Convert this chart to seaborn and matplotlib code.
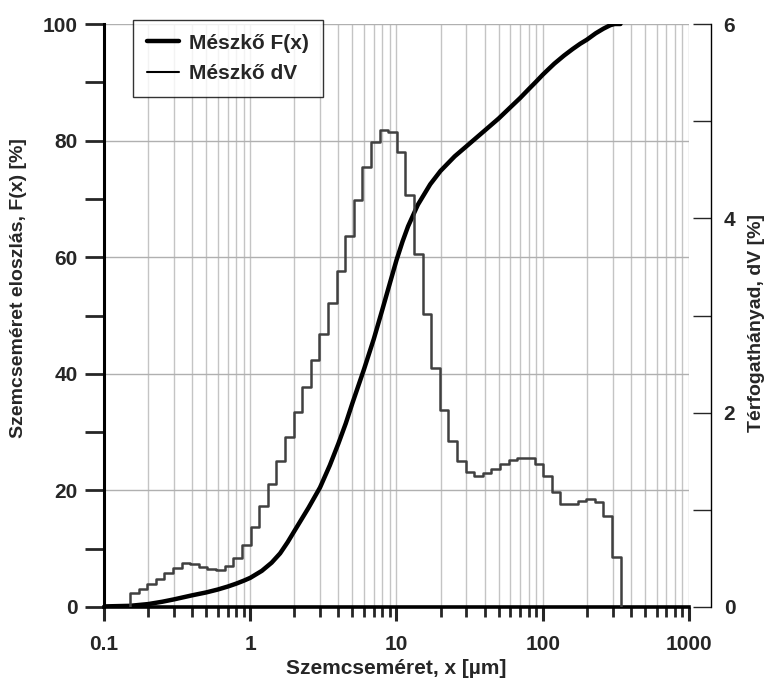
import numpy as np
import pandas as pd
import matplotlib
matplotlib.use("Agg")
import matplotlib.pyplot as plt
import matplotlib.ticker as mticker
from matplotlib.lines import Line2D
import seaborn as sns

# ---- data ----
bin_edges = [0.1506, 0.1724, 0.1974, 0.2261, 0.2589, 0.2965, 0.3396, 0.3888, 0.4453,
             0.5099, 0.5839, 0.6686, 0.7656, 0.8766, 1.004, 1.150, 1.316, 1.507, 1.726,
             1.976, 2.263, 2.592, 2.968, 3.399, 3.892, 4.457, 5.104, 5.845, 6.693, 7.664,
             8.777, 10.05, 11.51, 13.18, 15.09, 17.28, 19.79, 22.66, 25.95, 29.72, 34.03,
             38.96, 44.62, 51.09, 58.51, 66.99, 76.72, 87.85, 100.6, 115.2, 131.9, 151.1,
             173.0, 198.1, 226.9, 259.8, 297.5, 340.6]
dv_values = [0.144, 0.186, 0.234, 0.288, 0.348, 0.402, 0.450, 0.438, 0.408, 0.390,
             0.384, 0.420, 0.504, 0.636, 0.828, 1.038, 1.266, 1.500, 1.752, 2.004,
             2.268, 2.538, 2.814, 3.132, 3.462, 3.816, 4.188, 4.524, 4.782, 4.914,
             4.884, 4.686, 4.236, 3.630, 3.018, 2.460, 2.028, 1.710, 1.500, 1.386,
             1.350, 1.374, 1.416, 1.470, 1.512, 1.536, 1.530, 1.470, 1.350, 1.188,
             1.062, 1.062, 1.092, 1.110, 1.080, 0.936, 0.516]
fx_size = [0.1, 0.15, 0.2, 0.25, 0.3, 0.4, 0.5, 0.6, 0.7, 0.8, 0.9, 1.0, 1.2, 1.4,
           1.6, 1.8, 2.0, 2.5, 3.0, 3.5, 4.0, 4.5, 5.0, 6.0, 7.0, 8.0, 9.0, 10.0,
           11.0, 12.0, 14.0, 17.0, 20.0, 25.0, 30.0, 40.0, 50.0, 60.0, 70.0, 80.0,
           90.0, 100.0, 110.0, 120.0, 140.0, 160.0, 180.0, 200.0, 230.0, 260.0,
           290.0, 310.0, 340.0]
fx_values = [0.1, 0.2, 0.5, 0.9, 1.3, 2.0, 2.5, 3.0, 3.5, 4.0, 4.5, 5.0, 6.2, 7.6,
             9.2, 11.1, 13.0, 17.0, 20.5, 24.3, 28.0, 31.5, 35.0, 40.8, 46.0, 51.0,
             55.5, 59.5, 62.7, 65.3, 69.0, 72.5, 74.8, 77.3, 79.0, 81.7, 83.8, 85.7,
             87.3, 88.8, 90.1, 91.3, 92.3, 93.2, 94.6, 95.7, 96.6, 97.3, 98.4, 99.2,
             99.8, 100.0, 100.0]
label_f = "Mészkő F(x)"
label_dv = "Mészkő dV"

sns.set_style("white")
plt.rcParams["font.family"] = ["Liberation Sans", "DejaVu Sans"]
plt.rcParams["font.weight"] = "bold"
FS = 15
LFS = 14

fig = plt.figure(figsize=(7.65, 6.84), dpi=100)
ax = fig.add_axes([104 / 765, 77 / 684, 585 / 765, 583 / 684])
ax2 = ax.twinx()

# step outline of the volume fractions
step_x = [bin_edges[0]] + list(bin_edges)
step_y = [0.0] + list(dv_values) + [0.0]
df_step = pd.DataFrame({"x": step_x, "y": step_y})
sns.lineplot(data=df_step, x="x", y="y", ax=ax2, estimator=None, sort=False,
             drawstyle="steps-post", color="#404040", linewidth=1.8)

df_f = pd.DataFrame({"x": fx_size, "y": fx_values})
sns.lineplot(data=df_f, x="x", y="y", ax=ax, estimator=None, sort=False,
             color="black", linewidth=3.2)
ax.lines[-1].set_solid_joinstyle("round")

for a in (ax, ax2):
    a.set_xscale("log")
    a.set_xlim(0.1, 1000)
ax.set_ylim(0, 100)
ax2.set_ylim(0, 6)

ax.xaxis.set_major_locator(mticker.LogLocator(base=10, numticks=10))
ax.xaxis.set_minor_locator(mticker.LogLocator(base=10, subs=np.arange(2, 10), numticks=100))
ax.xaxis.set_major_formatter(mticker.FuncFormatter(lambda v, p: f"{v:g}"))
ax.xaxis.set_minor_formatter(mticker.NullFormatter())
ax.yaxis.set_major_locator(mticker.MultipleLocator(20))
ax.yaxis.set_minor_locator(mticker.MultipleLocator(10))
ax.grid(True, which="both", axis="x", color="#c4c4c4", linewidth=1.0)
ax.grid(True, which="major", axis="y", color="#b0b0b0", linewidth=1.0)
ax.set_axisbelow(True)

ax2.yaxis.set_major_locator(mticker.MultipleLocator(2))
ax2.yaxis.set_minor_locator(mticker.MultipleLocator(1))
ax2.grid(False)

for s in ("top", "right"):
    ax.spines[s].set_visible(False)
ax.spines["left"].set_linewidth(2.2)
ax.spines["bottom"].set_linewidth(2.6)
ax.spines["left"].set_color("black")
ax.spines["bottom"].set_color("black")
for s in ("top", "left", "bottom"):
    ax2.spines[s].set_visible(False)
ax2.spines["right"].set_position(("outward", 16))
ax2.spines["right"].set_linewidth(1.0)
ax2.spines["right"].set_color("black")

ax.tick_params(axis="y", which="both", direction="out", length=14, width=2.0,
               labelsize=FS, pad=5, left=True)
ax.tick_params(axis="x", which="major", direction="out", length=10, width=2.2,
               labelsize=FS, pad=10, bottom=True)
ax.tick_params(axis="x", which="minor", direction="out", length=7, width=2.0, bottom=True)
ax2.tick_params(axis="y", which="both", direction="in", length=13, width=1.0,
                labelsize=FS, pad=9, right=True)
ax2.tick_params(axis="x", which="both", bottom=False, top=False, labelbottom=False)

for lab in ax.get_xticklabels() + ax.get_yticklabels() + ax2.get_yticklabels():
    lab.set_fontweight("bold")

ax.set_xlabel("Szemcseméret, x [µm]", fontsize=FS, fontweight="bold", labelpad=4)
ax.set_ylabel("Szemcseméret eloszlás, F(x) [%]", fontsize=LFS, fontweight="bold")
ax2.set_ylabel("Térfogathányad, dV [%]", fontsize=LFS, fontweight="bold")
ax.yaxis.set_label_coords(-0.147, 0.547)
ax2.yaxis.set_label_coords(1.116, 0.487)
ax.yaxis.label.set_verticalalignment("center")
ax2.yaxis.label.set_verticalalignment("center")

handles = [Line2D([], [], color="black", linewidth=3.2),
           Line2D([], [], color="black", linewidth=1.5)]
leg = ax2.legend(handles, [label_f, label_dv], loc="upper left",
                 bbox_to_anchor=(0.0496, 1.007), frameon=True, fancybox=False,
                 prop={"weight": "bold", "size": FS}, handlelength=1.55,
                 borderpad=0.66, labelspacing=0.55, handletextpad=0.5,
                 borderaxespad=0.0)
leg.get_frame().set_edgecolor("black")
leg.get_frame().set_linewidth(1.0)

fig.savefig("out.png", dpi=100)
